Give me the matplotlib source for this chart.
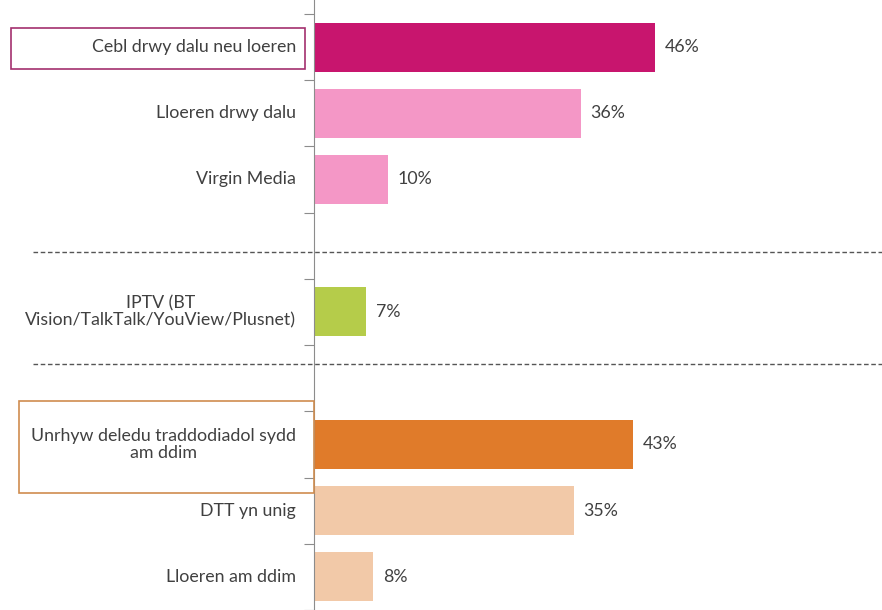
import matplotlib.pyplot as plt
import matplotlib.patches as patches
from matplotlib.lines import Line2D
from matplotlib.transforms import blended_transform_factory

plt.rcParams['font.family'] = ['Lato', 'DejaVu Sans']

# Data (slot order from top to bottom; None = empty spacer slot)
labels = [
    "Cebl drwy dalu neu loeren",
    "Lloeren drwy dalu",
    "Virgin Media",
    None,
    "IPTV (BT\nVision/TalkTalk/YouView/Plusnet)",
    None,
    "Unrhyw deledu traddodiadol sydd\nam ddim",
    "DTT yn unig",
    "Lloeren am ddim",
]
values = [46, 36, 10, None, 7, None, 43, 35, 8]
colors = ["#C8156E", "#F497C6", "#F497C6", None, "#B5CC4A", None,
          "#E07B2A", "#F2C9A8", "#F2C9A8"]

text_color = "#404040"

fig = plt.figure(figsize=(8.82, 6.10), dpi=100)
ax = fig.add_axes([314 / 882, 0, (882 - 314) / 882, 1])
ax.set_xlim(0, 76.6)
ax.set_ylim(8.40, -0.71)

for i, (lab, val, col) in enumerate(zip(labels, values, colors)):
    if lab is None:
        continue
    ax.barh(i, val, height=0.74, color=col)
    ax.text(val + 1.3, i, f"{val}%", va="center", ha="left",
            fontsize=12.8, color=text_color)
    ax.text(-2.4, i, lab, va="center", ha="right", multialignment="center",
            fontsize=12.8, color=text_color, linespacing=1.1)

# axis styling
for s in ["top", "right", "bottom"]:
    ax.spines[s].set_visible(False)
ax.spines["left"].set_color("#8c8c8c")
ax.set_xticks([])
ax.set_yticks([i - 0.5 for i in range(10)])
ax.set_yticklabels([])
ax.tick_params(axis="y", length=7, color="#8c8c8c", direction="out")

# dashed group separators
trans = blended_transform_factory(fig.transFigure, ax.transData)
for y in [3.09, 4.78]:
    ax.add_line(Line2D([33 / 882, 1], [y, y], transform=trans, color="#555555",
                       linestyle=(0, (3.3, 1.9)), linewidth=1, clip_on=False))

# highlight boxes round the group headers
fig.add_artist(patches.Rectangle((11 / 882, 1 - 69 / 610), 294 / 882, 41 / 610,
                                 transform=fig.transFigure, fill=False,
                                 edgecolor="#A3306E", linewidth=1.2))
fig.add_artist(patches.Rectangle((19 / 882, 1 - 493 / 610), 295 / 882, 92 / 610,
                                 transform=fig.transFigure, fill=False,
                                 edgecolor="#CF8C4F", linewidth=1.2))

fig.savefig("out.png", dpi=100)
